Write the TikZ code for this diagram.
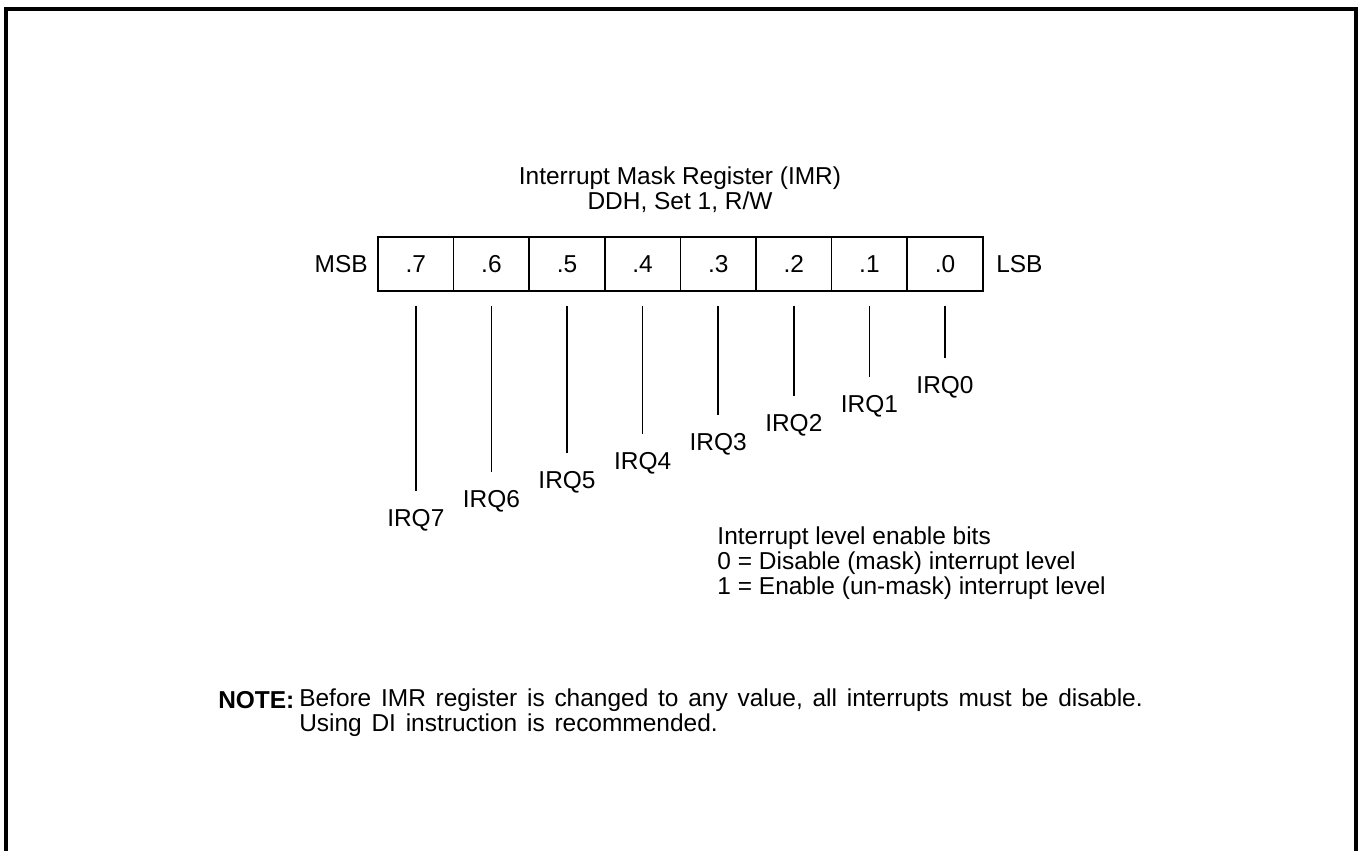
\documentclass[tikz,border=0pt]{standalone}
\usepackage{fontspec}
\setmainfont{Liberation Sans}
\usepackage{tikz}
\usetikzlibrary{positioning}

\tikzset{
  bitcell/.style={draw, line width=1.2pt, minimum width=1.89cm, minimum height=1.35cm, inner sep=0pt},
  irqlbl/.style={anchor=north, inner sep=0pt},
  irqline/.style={line width=1.2pt, shorten >=0.45cm}
}

\begin{document}
\begin{tikzpicture}[every node/.style={font=\fontsize{17.4}{17.6}\selectfont, align=center}]
        \useasboundingbox (0,0) rectangle (34.025,-21.275);
        % outer frame, open at the bottom
        \draw[line width=2.2pt] (0.15,-21.275) -- (0.15,-0.225) -- (33.9,-0.225) -- (33.9,-21.275);

        \node (title) at (17.0,-4.75) {Interrupt Mask Register (IMR)\\DDH, Set 1, R/W};

        \node[bitcell] (b7) at (10.395,-6.6) {.7};
        \node[bitcell] (b6) at (12.285,-6.6) {.6};
        \node[bitcell] (b5) at (14.175,-6.6) {.5};
        \node[bitcell] (b4) at (16.065,-6.6) {.4};
        \node[bitcell] (b3) at (17.955,-6.6) {.3};
        \node[bitcell] (b2) at (19.845,-6.6) {.2};
        \node[bitcell] (b1) at (21.735,-6.6) {.1};
        \node[bitcell] (b0) at (23.625,-6.6) {.0};
        \node[anchor=east, inner sep=0pt] (msb) at (9.2,-6.6) {MSB};
        \node[anchor=west, inner sep=0pt] (lsb) at (24.9,-6.6) {LSB};

        \node[irqlbl] (q7) at (10.395,-12.725) {IRQ7};
        \node[irqlbl] (q6) at (12.285,-12.25) {IRQ6};
        \node[irqlbl] (q5) at (14.175,-11.775) {IRQ5};
        \node[irqlbl] (q4) at (16.065,-11.3) {IRQ4};
        \node[irqlbl] (q3) at (17.955,-10.825) {IRQ3};
        \node[irqlbl] (q2) at (19.845,-10.35) {IRQ2};
        \node[irqlbl] (q1) at (21.735,-9.875) {IRQ1};
        \node[irqlbl] (q0) at (23.625,-9.4) {IRQ0};

        \draw[irqline] ([yshift=-0.35cm]b7.south) -- (q7.north);
        \draw[irqline] ([yshift=-0.35cm]b6.south) -- (q6.north);
        \draw[irqline] ([yshift=-0.35cm]b5.south) -- (q5.north);
        \draw[irqline] ([yshift=-0.35cm]b4.south) -- (q4.north);
        \draw[irqline] ([yshift=-0.35cm]b3.south) -- (q3.north);
        \draw[irqline] ([yshift=-0.35cm]b2.south) -- (q2.north);
        \draw[irqline] ([yshift=-0.35cm]b1.south) -- (q1.north);
        \draw[irqline] ([yshift=-0.35cm]b0.south) -- (q0.north);

        \node[anchor=west, align=left, inner sep=0pt] (legend) at (17.93,-14.075) {Interrupt level enable bits\\0 = Disable (mask) interrupt level\\1 = Enable (un-mask) interrupt level};

        \node[anchor=west, inner sep=0pt, font=\fontsize{17.4}{17.6}\selectfont\bfseries] (notelbl) at (5.45,-17.5) {NOTE:};
        \node[anchor=west, align=left, inner sep=0pt, font={\fontsize{17.4}{17.6}\selectfont\spaceskip=0.4em\relax}] (note) at (7.475,-17.82) {Before IMR register is changed to any value, all interrupts must be disable.\\Using DI instruction is recommended.};
    \end{tikzpicture}
\end{document}
